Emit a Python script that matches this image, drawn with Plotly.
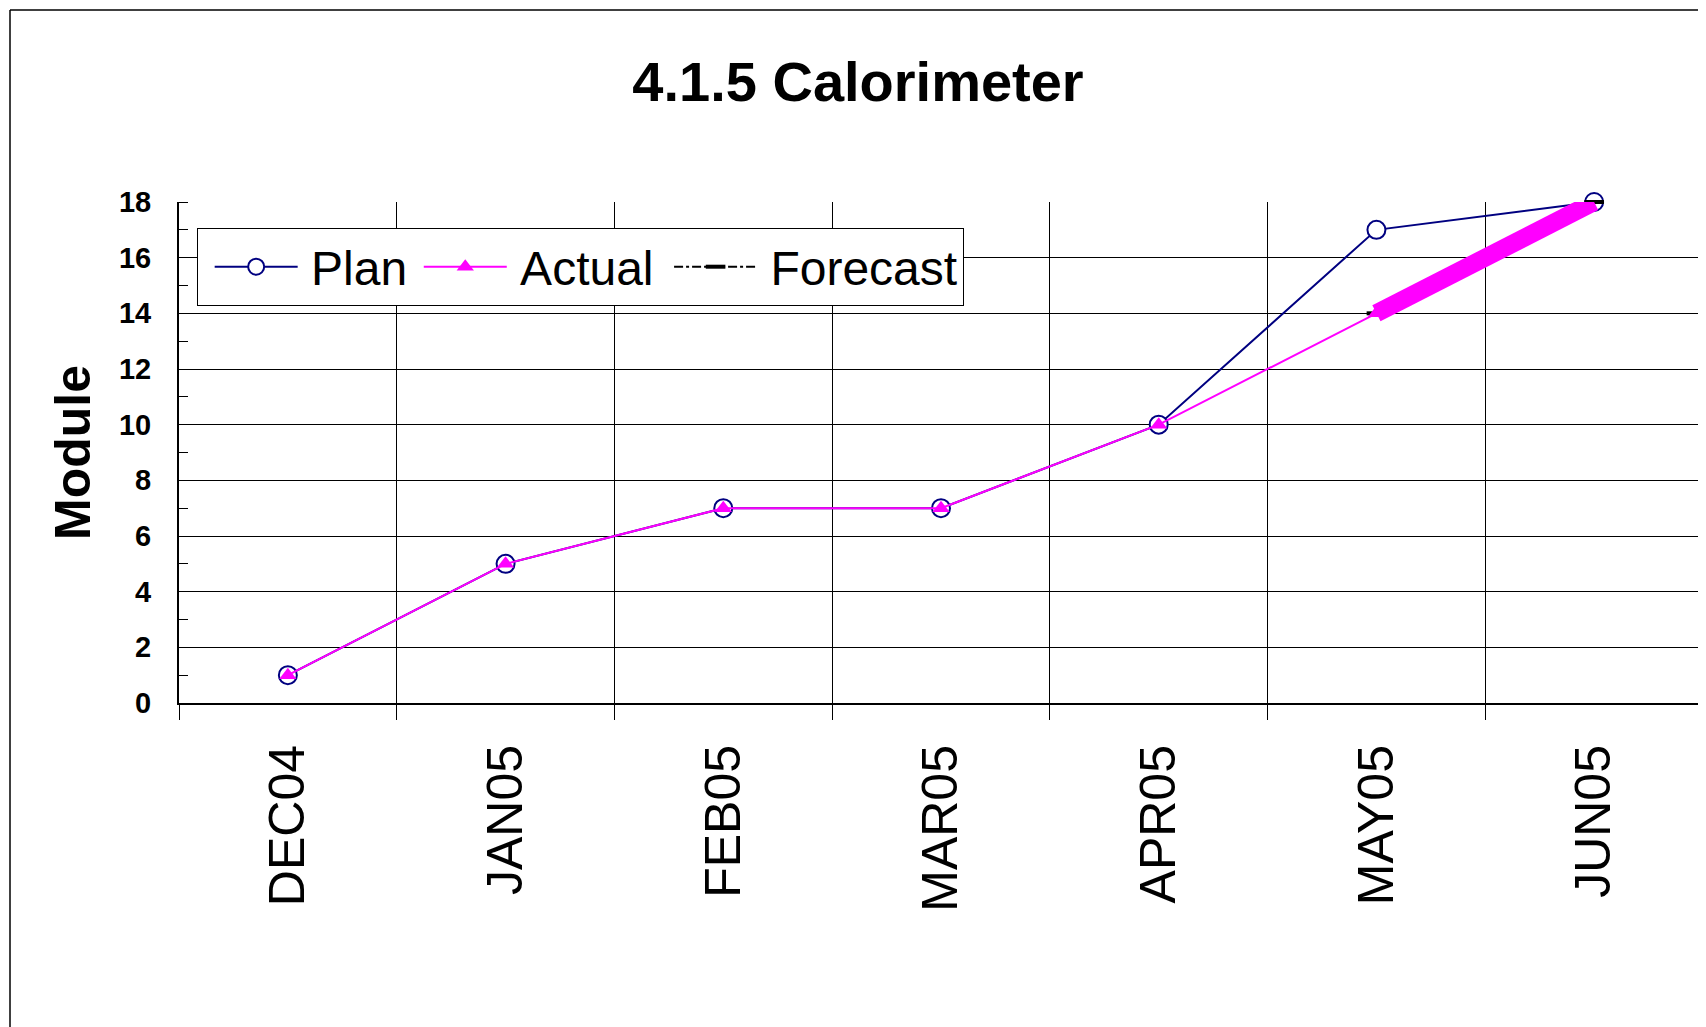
import plotly.graph_objects as go

months = ["DEC04", "JAN05", "FEB05", "MAR05", "APR05", "MAY05", "JUN05"]
plan = [1, 5, 7, 7, 10, 17, 18]
actual = [1, 5, 7, 7, 10, 14, None]
forecast = [None, None, None, None, None, 14, 18]
y_ticks = [0, 2, 4, 6, 8, 10, 12, 14, 16, 18]

FONT = "Liberation Sans, Arial, sans-serif"

def gap(px):
    return f"<span style='font-size:{px}px'>\u00a0</span>"

fig = go.Figure()

fig.add_trace(go.Scatter(
    x=months, y=plan, name=gap(30) + "Plan" + gap(24), mode="lines+markers",
    line=dict(color="#000080", width=2),
    marker=dict(symbol="circle", size=18, color="white",
                line=dict(color="#000080", width=2)),
    cliponaxis=False, legendrank=1,
))
fig.add_trace(go.Scatter(
    x=months, y=forecast, name=gap(30) + "Forecast", mode="lines+markers",
    line=dict(color="black", width=2, dash="dashdot"),
    marker=dict(symbol="line-ew", size=14, color="black",
                line=dict(color="black", width=4)),
    cliponaxis=False, legendrank=3,
))
fig.add_trace(go.Scatter(
    x=months, y=forecast, name="Forecast (segment)", mode="lines",
    line=dict(color="#FF00FF", width=18),
    cliponaxis=False, showlegend=False,
))
fig.add_trace(go.Scatter(
    x=months, y=actual, name=gap(30) + "Actual" + gap(38), mode="lines+markers",
    line=dict(color="#FF00FF", width=2),
    marker=dict(symbol="triangle-up", size=15, color="#FF00FF"),
    cliponaxis=False, legendrank=2,
))

# page offset (browser body margin)
OFF = 8
W, H = 1698, 1019
L = 179 - OFF
T = 202 - OFF
R = W - (1703 - OFF)
B = H - (703 - OFF)
pw, ph = W - L - R, H - T - B

def px_x(x):
    # page x -> paper fraction
    return (x - OFF - L) / pw

def px_y(y):
    # page y -> paper fraction
    return (H - B - (y - OFF)) / ph

fig.update_layout(
    width=W, height=H,
    margin=dict(l=L, r=R, t=T, b=B),
    paper_bgcolor="white", plot_bgcolor="white",
    font=dict(family=FONT, color="black"),
    title=dict(text="<b>4.1.5 Calorimeter</b>", x=(858 - OFF) / W, xanchor="center",
               y=1 - (81 - OFF) / H, yanchor="middle",
               font=dict(size=56, family=FONT, color="black")),
    showlegend=True,
    legend=dict(
        orientation="h", x=px_x(197), y=px_y(228), xanchor="left", yanchor="top",
        bgcolor="white", bordercolor="black", borderwidth=1,
        font=dict(size=48, family=FONT, color="black"),
        itemwidth=83, traceorder="normal",
        itemclick=False,
        title=dict(text="\u00a0", side="left", font=dict(size=6)),
    ),
    xaxis=dict(
        type="category", categoryorder="array", categoryarray=months,
        range=[-0.5, 6.5], tickson="boundaries",
        showgrid=True, gridcolor="black", gridwidth=1,
        ticks="outside", ticklen=15, tickcolor="black", tickwidth=1,
        tickangle=-90, tickfont=dict(size=50, family=FONT, color="black"),
        ticklabelstandoff=20,
        showline=True, linecolor="black", linewidth=2,
        zeroline=False, fixedrange=True,
    ),
    yaxis=dict(
        range=[0, 18], tickmode="array", tickvals=y_ticks,
        ticktext=[f"<b>{v}</b>" for v in y_ticks],
        showgrid=True, gridcolor="black", gridwidth=1,
        ticks="", tickfont=dict(size=29, family=FONT, color="black"),
        ticklabelstandoff=20,
        minor=dict(dtick=1, ticks="inside", ticklen=9, tickcolor="black",
                   tickwidth=1, showgrid=False),
        showline=True, linecolor="black", linewidth=2,
        zeroline=False, fixedrange=True,
        title=dict(text="<b>Module</b>", font=dict(size=50, family=FONT, color="black"),
                   standoff=12),
    ),
    shapes=[
        dict(type="line", xref="paper", yref="paper",
             x0=px_x(10), x1=px_x(1720), y0=px_y(10), y1=px_y(10),
             line=dict(color="black", width=1.5)),
        dict(type="line", xref="paper", yref="paper",
             x0=px_x(10), x1=px_x(10), y0=px_y(10), y1=px_y(1040),
             line=dict(color="black", width=1.5)),
    ],
)

fig.write_html("out.html")
